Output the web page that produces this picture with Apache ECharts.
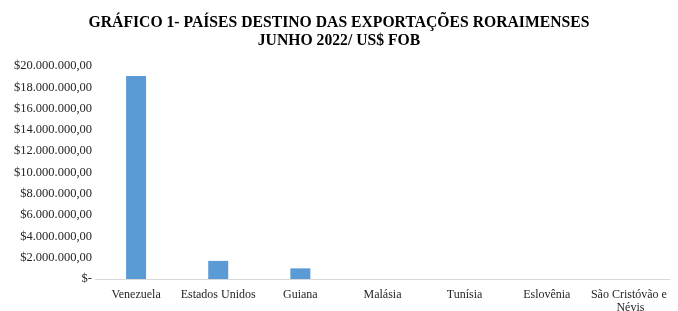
<!DOCTYPE html>
<html>
<head>
<meta charset="utf-8">
<script src="https://cdn.jsdelivr.net/npm/echarts@6/dist/echarts.min.js"></script>
<style>
  html, body { margin: 0; padding: 0; background: #fff; }
  #chart { width: 678px; height: 311px; }
</style>
</head>
<body>
<div id="chart"></div>
<script>
const titleLines = ['GRÁFICO 1- PAÍSES DESTINO DAS EXPORTAÇÕES RORAIMENSES', 'JUNHO 2022/ US$ FOB']
const paises = ['Venezuela', 'Estados Unidos', 'Guiana', 'Malásia', 'Tunísia', 'Eslovênia', 'São Cristóvão e Névis']
const valores = [19050000, 1700000, 1000000, 3000, 2000, 1000, 500]
const yMin = 0
const yMax = 20000000
const yStep = 2000000

const fmt = (v) => {
  if (v === 0) return '$-'
  const s = Math.round(v).toString().replace(/\B(?=(\d{3})+(?!\d))/g, '.')
  return '$' + s + ',00'
}

const chart = echarts.init(document.getElementById('chart'))
chart.setOption({
  animation: false,
  title: {
    text: titleLines.join('\n'),
    left: 'center',
    top: 9,
    textStyle: {
      fontFamily: 'Liberation Serif',
      fontWeight: 'bold',
      fontSize: 15.7,
      lineHeight: 18,
      color: '#000'
    }
  },
  grid: { left: 95, right: 8, top: 66, bottom: 32, containLabel: false, outerBoundsMode: 'none' },
  xAxis: {
    type: 'category',
    data: paises,
    axisLine: { lineStyle: { color: '#d9d9d9', width: 1 } },
    axisTick: { show: false },
    axisLabel: {
      interval: 0,
      margin: 9,
      width: 96,
      overflow: 'break',
      lineHeight: 13,
      fontFamily: 'Liberation Serif',
      fontSize: 12,
      color: '#262626'
    }
  },
  yAxis: {
    type: 'value',
    min: yMin,
    max: yMax,
    interval: yStep,
    axisLine: { show: false },
    axisTick: { show: false },
    splitLine: { show: false },
    axisLabel: {
      margin: 3,
      formatter: fmt,
      fontFamily: 'Liberation Serif',
      fontSize: 12.5,
      color: '#262626'
    }
  },
  series: [
    {
      type: 'bar',
      data: valores,
      barWidth: 20,
      itemStyle: { color: '#5b9bd5' }
    }
  ]
})
</script>
</body>
</html>
